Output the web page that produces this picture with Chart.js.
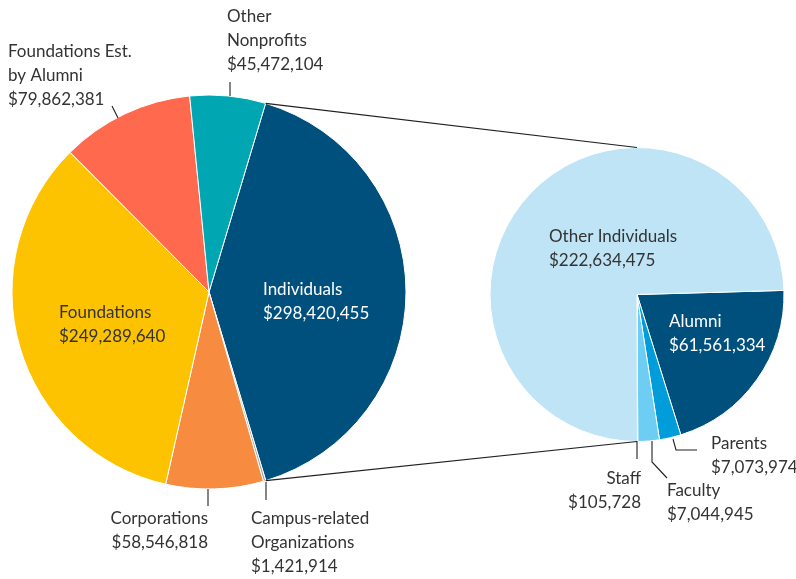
<!DOCTYPE html>
<html>
<head>
<meta charset="utf-8">
<script src="https://cdn.jsdelivr.net/npm/chart.js@4.4.1/dist/chart.umd.min.js"></script>
<style>
  html, body { margin: 0; padding: 0; background: #fff; }
  #wrap { position: relative; width: 796px; height: 579px; }
  #wrap canvas { position: absolute; left: 0; top: 0; }
</style>
</head>
<body>
<div id="wrap">
  <canvas id="sourceChart" width="796" height="579"></canvas>
  <canvas id="detailChart" width="796" height="579"></canvas>
</div>
<script>
  // left pie: giving by source
  const sourceLabels = [
    ['Individuals'],
    ['Campus-related', 'Organizations'],
    ['Corporations'],
    ['Foundations'],
    ['Foundations Est.', 'by Alumni'],
    ['Other', 'Nonprofits'],
  ];
  const sourceValues = [298420455, 1421914, 58546818, 249289640, 79862381, 45472104];
  const sourceColors = ['#00507d', '#a9a9a9', '#f78b3f', '#fdc300', '#ff6a4f', '#00a6b1'];

  // right pie: breakdown of individuals
  const individualLabels = [
    ['Alumni'],
    ['Parents'],
    ['Faculty'],
    ['Staff'],
    ['Other Individuals'],
  ];
  const individualValues = [61561334, 7073974, 7044945, 105728, 222634475];
  const individualColors = ['#00507d', '#009dda', '#6dcdf3', '#a6dbf3', '#bfe4f6'];

  const FONT = '17px Lato';
  const DARK = '#333333';
  const LINE_H = 24;

  // where the text for each slice goes (same order as the data)
  const sourceCallouts = [
    { x: 263, y: 290, align: 'left', color: '#fff' },
    { x: 251, y: 519, align: 'left', color: DARK, leader: [[266, 482], [266, 500]] },
    { x: 208, y: 519, align: 'right', color: DARK, leader: [[208, 489], [208, 506]] },
    { x: 59, y: 313, align: 'left', color: DARK },
    { x: 8, y: 52, align: 'left', color: DARK, leader: [[112, 106], [118, 118]] },
    { x: 227, y: 17, align: 'left', color: DARK, leader: [[230, 82], [230, 96]] },
  ];
  const individualCallouts = [
    { x: 669, y: 322, align: 'left', color: '#fff' },
    { x: 711, y: 444, align: 'left', color: DARK, leader: [[673, 439], [676, 450], [697, 450]] },
    { x: 667, y: 491, align: 'left', color: DARK, leader: [[652, 441], [652, 462], [667, 478]] },
    { x: 641, y: 479, align: 'right', color: DARK, leader: [[637, 441], [637, 459]] },
    { x: 549, y: 237, align: 'left', color: DARK },
  ];

  function money(v) {
    return '$' + v.toLocaleString('en-US');
  }

  function calloutPlugin(callouts) {
    return {
      id: 'callouts',
      afterDraw(chart) {
        const ctx = chart.ctx;
        const ds = chart.data.datasets[0];
        ctx.save();
        ctx.font = FONT;
        ctx.textBaseline = 'middle';
        chart.data.labels.forEach((lab, i) => {
          const c = callouts[i];
          const lines = lab.concat([money(ds.data[i])]);
          if (c.leader) {
            ctx.strokeStyle = '#231f20';
            ctx.lineWidth = 1.1;
            ctx.beginPath();
            c.leader.forEach((p, k) => k ? ctx.lineTo(p[0], p[1]) : ctx.moveTo(p[0], p[1]));
            ctx.stroke();
          }
          ctx.fillStyle = c.color;
          ctx.textAlign = c.align;
          lines.forEach((t, k) => ctx.fillText(t, c.x, c.y + k * LINE_H));
        });
        ctx.restore();
      }
    };
  }

  const sourceChart = new Chart(document.getElementById('sourceChart'), {
    type: 'pie',
    data: {
      labels: sourceLabels,
      datasets: [{
        data: sourceValues,
        backgroundColor: sourceColors,
        borderColor: '#fff',
        borderWidth: 1,
      }]
    },
    options: {
      responsive: false,
      animation: false,
      rotation: 16.7,
      radius: 197,
      layout: { padding: { left: 11, right: 389, top: 95, bottom: 90 } },
      plugins: { legend: { display: false }, tooltip: { enabled: false } }
    },
    plugins: [calloutPlugin(sourceCallouts)]
  });

  // lines joining the Individuals slice to the second pie
  const connectorPlugin = {
    id: 'connector',
    afterDraw(chart) {
      const arc = sourceChart.getDatasetMeta(0).data[0];
      const pie = chart.getDatasetMeta(0).data[0];
      const ctx = chart.ctx;
      ctx.save();
      ctx.strokeStyle = '#231f20';
      ctx.lineWidth = 1.2;
      ctx.beginPath();
      ctx.moveTo(arc.x + arc.outerRadius * Math.cos(arc.startAngle), arc.y + arc.outerRadius * Math.sin(arc.startAngle));
      ctx.lineTo(pie.x, pie.y - pie.outerRadius);
      ctx.moveTo(arc.x + arc.outerRadius * Math.cos(arc.endAngle), arc.y + arc.outerRadius * Math.sin(arc.endAngle));
      ctx.lineTo(pie.x, pie.y + pie.outerRadius);
      ctx.stroke();
      ctx.restore();
    }
  };

  const detailChart = new Chart(document.getElementById('detailChart'), {
    type: 'pie',
    data: {
      labels: individualLabels,
      datasets: [{
        data: individualValues,
        backgroundColor: individualColors,
        borderColor: '#fff',
        borderWidth: 1,
      }]
    },
    options: {
      responsive: false,
      animation: false,
      rotation: 88.4,
      radius: 147,
      layout: { padding: { left: 490, right: 12, top: 147, bottom: 137 } },
      plugins: { legend: { display: false }, tooltip: { enabled: false } }
    },
    plugins: [connectorPlugin, calloutPlugin(individualCallouts)]
  });
</script>
</body>
</html>
